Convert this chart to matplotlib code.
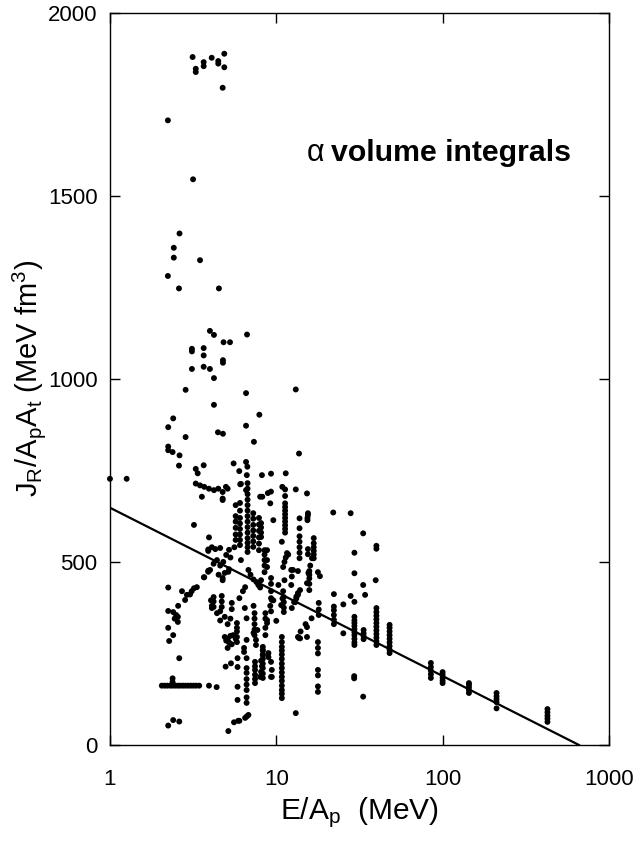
import matplotlib
matplotlib.use("Agg")
import matplotlib.pyplot as plt
import numpy as np

plt.rcParams['font.family'] = ['Liberation Sans', 'DejaVu Sans']
plt.rcParams['mathtext.fontset'] = 'custom'
plt.rcParams['mathtext.rm'] = 'Liberation Sans'
plt.rcParams['mathtext.it'] = 'Liberation Sans:italic'

# ---- isolated points (E/Ap in MeV, J in MeV fm^3) ----
e_high = [3.14, 3.28, 3.28, 3.66, 3.66, 4.09, 4.48, 4.48, 4.87, 4.87, 4.76,
          2.23, 3.16, 2.62, 2.42, 2.42, 3.48, 2.23, 2.60, 4.52, 3.99, 4.22,
          6.67, 4.82, 5.27, 3.11, 3.11, 3.66, 3.66, 4.78, 4.78, 3.11, 3.66,
          3.99, 4.22, 2.85, 6.58, 13.1, 4.22, 7.91]
j_high = [1879, 1847, 1838, 1865, 1854, 1877, 1868, 1861, 1888, 1851, 1795,
          1706, 1545, 1397, 1358, 1331, 1324, 1281, 1247, 1247, 1131, 1120,
          1121, 1100, 1100, 1082, 1075, 1084, 1064, 1051, 1044, 1027, 1033,
          1027, 1002, 970, 961, 971, 929, 902]

e_mid = [2.40, 2.24, 6.58, 4.46, 4.78, 2.85, 7.34, 2.24, 2.24, 2.38, 2.62,
         13.7, 2.60, 5.54, 6.58, 6.7, 3.28, 3.37, 3.66, 5.99, 6.65, 8.2,
         9.3, 11.4, 1.0, 1.26, 3.28, 3.48, 3.69, 3.94, 4.22, 4.48, 4.76,
         4.98, 5.1, 6.07, 6.58, 8.24, 9.29, 10.87, 11.3, 11.3, 13.1, 3.57,
         4.76, 15.3, 6.13, 4.76, 8.9, 9.2, 8.0, 9.6, 15.4, 15.4, 15.5, 15.5,
         22.0, 28.0, 33.3, 40.0, 40.0]
j_mid = [892, 868, 872, 854, 850, 841, 828, 815, 805, 800, 791,
         796, 763, 769, 773, 760, 754, 742, 764, 748, 737, 737,
         741, 742, 727, 727, 714, 709, 705, 700, 696, 700, 691,
         705, 700, 712, 696, 678, 692, 705, 698, 680, 698, 678,
         673, 687, 713, 669, 688, 660, 678, 614, 614, 620, 628, 633,
         635, 633, 578, 544, 536]

e_low_left = [3.2, 2.24, 2.71, 3.03, 3.33, 3.69, 3.9, 3.94, 3.9, 2.57, 2.83,
              2.9, 3.1, 3.2, 3.9, 4.1, 4.3, 4.6, 5.2, 5.6, 4.0, 4.2, 4.4,
              4.6, 4.9, 5.2, 4.5, 4.8, 5.0, 5.3, 4.76, 4.76, 5.15, 3.9, 3.67,
              4.2, 4.2, 4.2, 4.7, 4.7, 4.7, 5.4, 5.4, 2.24, 2.4, 2.45, 2.5,
              2.56, 2.56, 2.24, 2.4, 2.27, 2.61, 2.38, 2.38, 3.94, 4.38,
              2.24, 2.4, 2.61, 4.1, 4.4, 4.6, 4.9, 5.3, 5.1, 4.6, 4.9, 5.0,
              5.1, 5.2, 5.3, 5.5, 5.7, 5.4, 5.1, 4.96, 5.34, 5.85, 5.85,
              5.85, 5.85, 5.57, 5.15, 5.9, 6.0, 6.5, 6.65, 6.8, 4.05, 4.1]
j_low_left = [601, 430, 420, 411, 431, 458, 476, 567, 534, 380, 396,
              410, 420, 428, 530, 540, 535, 538, 533, 540, 478, 495, 505,
              490, 470, 480, 465, 500, 519, 512, 456, 450, 473, 473, 458,
              377, 392, 404, 377, 392, 407, 371, 388, 366, 363, 345, 355,
              336, 350, 320, 300, 284, 237, 182, 172, 162, 158,
              53, 68, 64, 374, 360, 365, 350, 345, 330, 340, 295, 285,
              290, 280, 298, 300, 290, 275, 265, 214, 223, 237, 213,
              159, 123, 62, 38, 66, 66, 74, 78, 82, 395, 380]

e_low_mid = [8.0, 8.1, 9.3, 9.3, 9.3, 9.3, 10.3, 10.7, 10.9, 11.0, 11.2,
             12.3, 12.4, 12.6, 13.0, 13.2, 13.5, 15.3, 15.6, 16.0, 16.4,
             6.13, 6.8, 7.0, 7.3, 7.6, 7.8, 8.8, 8.8, 8.8, 10.8, 11.0, 11.2,
             11.4, 11.6, 12.3, 13.5, 15.5, 15.5, 6.0, 6.3, 6.5, 6.47, 9.2,
             9.4, 8.8, 8.8, 10.0, 12.4, 12.8, 13.2, 13.5, 13.9, 16.3, 15.3,
             15.3, 13.9, 13.7, 8.0, 8.1, 8.2, 8.1, 8.3, 8.3, 9.4, 9.4, 13.1,
             6.63, 6.63, 6.4, 6.4, 7.3, 7.7, 7.55, 7.55, 8.97, 8.97, 9.3,
             9.3, 13.5, 14.0, 15.0, 9.6, 9.3, 7.3, 11.8]
j_low_mid = [430, 450, 401, 420, 440, 456, 437, 382, 400, 420, 450,
             437, 460, 478, 390, 405, 415, 442, 470, 490, 510,
             505, 478, 465, 452, 445, 437, 486, 505, 532, 555, 486, 500,
             512, 524, 478, 475, 521, 535, 401, 420, 431, 374, 380,
             396, 333, 341, 339, 374, 390, 400, 410, 423, 346, 295,
             322, 291, 292, 186, 200, 215, 230, 245, 259, 205, 186, 87,
             346, 287, 254, 265, 306, 314, 287, 273, 240, 251, 227,
             186, 295, 310, 330, 395, 365, 380, 520]

e_right = [29.5, 29.5, 39.6, 33.3, 34.2, 22.2, 25.3, 28.0, 29.5, 25.3,
           29.4, 29.4, 33.3, 18.3, 17.8]
j_right = [525, 469, 450, 437, 410, 412, 384, 407, 391, 305,
           182, 188, 132, 461, 472]

# ---- row of points at constant J ----
row_e = [2.05, 2.13, 2.21, 2.30, 2.38, 2.47, 2.56, 2.65, 2.75, 2.85, 2.96,
         3.07, 3.18, 3.30, 3.44]
row_j = 162

# ---- vertical columns (energy -> list of J values) ----
col_e = [6.05, 6.72, 7.27, 7.87, 5.7, 11.3, 13.8, 8.1, 8.5, 16.8, 15.8,
         10.8, 11.1, 7.45, 8.3, 6.63, 5.8, 7.4, 8.6, 17.8, 18.0, 29.5,
         33.5, 40.0, 48.0, 22.2, 85.0, 100.0, 144.0, 211.0, 427.0]
col_j = [
    [546, 560, 575, 590, 605, 620, 640, 661],
    [527, 540, 552, 565, 580, 595, 610, 625, 640, 655, 670, 685, 700, 715],
    [541, 556, 571, 586, 601, 618, 633],
    [532, 550, 567, 585, 602, 620],
    [560, 575, 593, 610, 625, 655],
    [580, 590, 600, 610, 620, 630, 640, 650, 660],
    [510, 525, 540, 555, 570, 592, 619],
    [568, 580, 594, 606],
    [472, 490, 505, 520, 532],
    [510, 520, 530, 540, 551, 565],
    [423, 440, 455, 465, 475],
    [128, 140, 150, 162, 175, 186, 198, 210, 222, 235, 247, 258, 268, 281, 295],
    [363, 375, 390, 404],
    [169, 180, 192, 205, 215, 227],
    [183, 195, 210, 222, 235, 247, 258, 268],
    [115, 130, 150, 165, 180, 197, 210, 237],
    [281, 295, 310, 320, 333],
    [300, 315, 330, 345, 360],
    [300, 320, 345, 360],
    [145, 160, 190, 205, 250, 265, 281],
    [355, 370, 388],
    [273, 280, 290, 300, 308, 316, 325, 333, 340, 350],
    [289, 297, 305, 314],
    [273, 283, 293, 303, 313, 323, 333, 343, 353, 363, 374],
    [251, 260, 270, 280, 290, 300, 310, 320, 328],
    [330, 342, 355, 368, 378],
    [183, 193, 203, 213, 224],
    [169, 176, 184, 192, 199],
    [142, 150, 158, 165, 169],
    [100, 117, 125, 133, 142],
    [63, 72, 80, 89, 98],
]

# ---- fitted line (endpoints) ----
fit_e = [1.0, 660.0]
fit_j = [648.0, 0.0]

# ---- assemble ----
E = list(e_high) + list(e_mid) + list(e_low_left) + list(e_low_mid) + list(e_right)
J = list(j_high) + list(j_mid) + list(j_low_left) + list(j_low_mid) + list(j_right)
E += row_e
J += [row_j] * len(row_e)
for ce, cj in zip(col_e, col_j):
    E += [ce] * len(cj)
    J += cj

fig = plt.figure(figsize=(6.43, 8.48), dpi=100)
ax = fig.add_axes([0.171, 0.1215, 0.776, 0.8635])

ax.scatter(E, J, s=18, c='black', edgecolors='none', zorder=3, clip_on=False)
ax.plot(fit_e, fit_j, color='black', lw=1.6, zorder=2)

ax.set_xscale('log')
ax.set_xlim(1, 1000)
ax.set_ylim(0, 2000)
ax.set_xticks([1, 10, 100, 1000])
ax.set_xticklabels(['1', '10', '100', '1000'])
ax.xaxis.set_minor_locator(matplotlib.ticker.NullLocator())
ax.set_yticks([0, 500, 1000, 1500, 2000])
ax.tick_params(direction='in', length=7, width=1, top=True, right=True,
               labelsize=16)
ax.tick_params(axis='x', pad=17)
ax.tick_params(axis='y', pad=9)
for sp in ax.spines.values():
    sp.set_linewidth(1.0)

ax.set_xlabel(r'E/A$_{\mathrm{p}}$  (MeV)', fontsize=21.5, labelpad=4)
ax.set_ylabel(r'J$_{\mathrm{R}}$/A$_{\mathrm{p}}$A$_{\mathrm{t}}$ (MeV fm$^{3}$)',
              fontsize=21)
ax.yaxis.set_label_coords(-0.125, 0.5)
ax.text(0.395, 0.808, 'α', transform=ax.transAxes,
        fontsize=22, ha='left', va='center')
ax.text(0.443, 0.808, 'volume integrals', transform=ax.transAxes,
        fontsize=21.8, fontweight='bold', ha='left', va='center')

fig.savefig('out.png', dpi=100)
